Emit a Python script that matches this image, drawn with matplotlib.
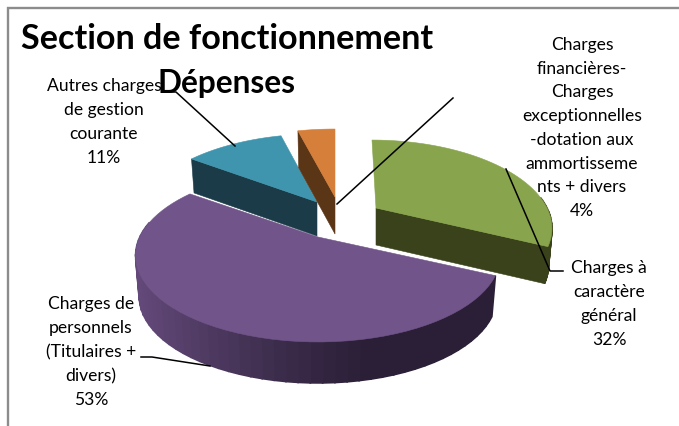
import numpy as np
import matplotlib
matplotlib.use("Agg")
import matplotlib.pyplot as plt
from matplotlib.patches import Polygon

plt.rcParams['font.family'] = ['Lato', 'DejaVu Sans']

# ---- data
categories = ["Charges à\ncaractère\ngénéral",
              "Charges de\npersonnels\n(Titulaires +\ndivers)",
              "Autres charges\nde gestion\ncourante",
              "Charges\nfinancières-\nCharges\nexceptionnelles\n-dotation aux\nammortisseme\nnts + divers"]
values = [32, 53, 11, 4]

# ---- styles / layout
top_colors = ['#88A44C', '#71558A', '#4095AE', '#D57F3A']
side_dark = ['#3A421B', '#2A1F36', '#1A3B47', '#5A3516']
side_light = ['#3A421B', '#63497A', '#1A3B47', '#5A3516']
apexes = [(376, 209), (318, 238), (317, 203), (335, 198)]
depths = [37, 41, 34, 37]
radial_wall = ['end', None, 'start', 'start']
draw_order = [2, 3, 0, 1]
radius_scale = [0.95, 0.99, 0.97, 1.0]
lean = [-4, 0, 0, 0]
RX, RY, K = 180, 82.5, 0.214

fig = plt.figure(figsize=(6.79, 4.27), dpi=100)
ax = fig.add_axes([0, 0, 1, 1])
ax.set_xlim(0, 679)
ax.set_ylim(427, 0)
ax.axis('off')

# only the top and left sides of the chart frame fall inside the picture
ax.plot([7.5, 7.5, 679], [427, 9, 9], color='#8C8C8C', lw=1.7, solid_joinstyle='miter')

bounds = np.concatenate([[0], np.cumsum(values)]) / np.sum(values) * 2 * np.pi


def project(theta, apex, scale, skew):
    X, Y = np.sin(theta), np.cos(theta)
    d = 1 + K * Y
    return apex[0] + scale * RX * X / d + skew * Y, apex[1] - RY * Y / d


def lower(x, y, apex, depth):
    return apex[0] + 0.98 * (x - apex[0]), y + depth


for i in draw_order:
    t0, t1 = bounds[i], bounds[i + 1]
    apex, depth = apexes[i], depths[i]
    th = np.linspace(t0, t1, 61)
    x, y = project(th, apex, radius_scale[i], lean[i])
    xb, yb = lower(x, y, apex, depth)
    z = 2 + draw_order.index(i)
    # curved outer wall, shaded piecewise
    c0 = np.array(matplotlib.colors.to_rgb(side_dark[i]))
    c1 = np.array(matplotlib.colors.to_rgb(side_light[i]))
    for j in range(len(th) - 1):
        if np.cos(th[j]) > 0.15:
            continue
        f = np.clip((apex[0] + 60 - x[j]) / 240, 0, 1) ** 1.2
        col = c0 + (c1 - c0) * f
        ax.add_patch(Polygon([(x[j], y[j]), (x[j + 1], y[j + 1]),
                              (xb[j + 1], yb[j + 1]), (xb[j], yb[j])],
                             fc=col, ec=col, lw=1.2, zorder=z))
    # visible radial wall
    if radial_wall[i]:
        k = -1 if radial_wall[i] == 'end' else 0
        ax.add_patch(Polygon([apex, (x[k], y[k]), (xb[k], yb[k]), (apex[0], apex[1] + depth)],
                             fc=side_dark[i], ec=side_dark[i], lw=0.4, zorder=z))
    ax.add_patch(Polygon(np.vstack([[apex], np.column_stack([x, y])]),
                         fc=top_colors[i], ec=top_colors[i], lw=0.4, zorder=z + 0.5))

# ---- leader lines
line_kw = dict(color='black', lw=1.1, zorder=10)
ax.plot([165, 176, 235], [93, 93, 147], **line_kw)
ax.plot([337, 453], [205, 99], **line_kw)
ax.plot([506, 550, 563], [170, 272, 272], **line_kw)
ax.plot([210, 152, 141], [367, 358, 358], **line_kw)

# ---- labels
lab_kw = dict(ha='center', va='center', fontsize=12.6, color='black',
              linespacing=1.6, zorder=11, multialignment='center')
pct = [f"{v}%" for v in values]
ax.text(609, 304, f"{categories[0]}\n{pct[0]}", **lab_kw)
ax.text(91, 352, f"{categories[1]}\n{pct[1]}", **lab_kw)
ax.text(104, 122, f"{categories[2]}\n{pct[2]}", **lab_kw)
ax.text(582, 128, f"{categories[3]}\n{pct[3]}", **lab_kw)

# ---- title
ax.text(227, 39, "Section de fonctionnement", ha='center', va='center',
        fontsize=24.6, fontweight='bold', zorder=12)
ax.text(226, 83, "Dépenses", ha='center', va='center',
        fontsize=22.8, fontweight='bold', zorder=12)

fig.savefig("out.png", dpi=100)
